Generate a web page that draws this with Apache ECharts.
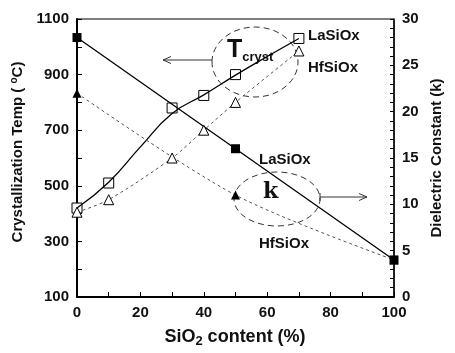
<!DOCTYPE html>
<html><head><meta charset="utf-8">
<script src="https://cdn.jsdelivr.net/npm/echarts@6/dist/echarts.min.js"></script>
<style>html,body{margin:0;padding:0;background:#fff}#c{width:455px;height:353px}</style>
</head><body><div id="c"></div>
<script>
// measured points (crystallization temperature, left axis)
const sio2Tc = [0, 10, 30, 40, 50, 70];
const tcLaSiOx = [420, 510, 780, 825, 900, 1030];
const tcHfSiOx = [405, 450, 600, 700, 800, 985];
// drawn trend curve for LaSiOx
const sio2TcCurve = [0, 10, 20, 30, 40, 50, 60, 70];
const tcLaSiOxCurve = [420, 513, 640, 760, 827, 898, 965, 1030];
// dielectric constant (right axis)
const sio2K = [0, 50, 100];
const kLaSiOx = [28, 16, 4];
const kHfSiOx = [22, 11, 4];

const F = '"Liberation Sans", Arial, Helvetica, sans-serif';
const chart = echarts.init(document.getElementById('c'), null, {renderer: 'canvas'});
const zip = (xs, ys) => xs.map((x, i) => [x, ys[i]]);
const lbl = {fontFamily: F, fontWeight: 'bold', fontSize: 15, color: '#111'};

function arrowHead(x, y, dir) {
  return {type: 'polyline', shape: {points: [[x - dir * 8, y - 3.5], [x, y], [x - dir * 8, y + 3.5]]},
    style: {stroke: '#333', lineWidth: 1, fill: null}};
}

chart.setOption({
  animation: false,
  grid: {left: 77, top: 19, right: 61, bottom: 56, show: true, borderColor: '#000', borderWidth: 1},
  xAxis: {type: 'value', min: 0, max: 100, interval: 10,
    axisLine: {lineStyle: {color: '#000', width: 2}},
    axisTick: {inside: true, length: 5, lineStyle: {color: '#000', width: 1}},
    splitLine: {show: false},
    axisLabel: Object.assign({margin: 8, formatter: v => (v % 20 === 0 ? String(v) : '')}, lbl)},
  yAxis: [
    {type: 'value', min: 100, max: 1100, interval: 100, position: 'left',
      axisLine: {show: true, lineStyle: {color: '#000', width: 2}},
      axisTick: {show: true, inside: true, length: 5, lineStyle: {color: '#000', width: 1}},
      splitLine: {show: false},
      axisLabel: Object.assign({margin: 8, formatter: v => ((v - 100) % 200 === 0 ? String(v) : '')}, lbl)},
    {type: 'value', min: 0, max: 30, interval: 1, position: 'right',
      axisLine: {show: true, lineStyle: {color: '#000', width: 1.5}},
      axisTick: {show: true, inside: true, length: 4, lineStyle: {color: '#000', width: 1}},
      splitLine: {show: false},
      axisLabel: Object.assign({margin: 8, formatter: v => (v % 5 === 0 ? String(v) : '')}, lbl)}
  ],
  series: [
    {type: 'line', yAxisIndex: 0, data: zip(sio2Tc, tcHfSiOx), smooth: 0.3, symbol: 'triangle', symbolSize: 10,
      lineStyle: {color: '#555', width: 1, type: [3, 3]}, itemStyle: {color: '#fff', borderColor: '#000', borderWidth: 1}},
    {type: 'line', yAxisIndex: 0, data: zip(sio2TcCurve, tcLaSiOxCurve), smooth: 0.5, symbol: 'none',
      lineStyle: {color: '#000', width: 1.3}},
    {type: 'scatter', yAxisIndex: 0, data: zip(sio2Tc, tcLaSiOx), symbol: 'rect', symbolSize: 10,
      itemStyle: {color: '#fff', borderColor: '#000', borderWidth: 1, opacity: 1}},
    {type: 'line', yAxisIndex: 1, data: zip(sio2K, kHfSiOx), smooth: 0.3, symbol: 'triangle', symbolSize: 9,
      lineStyle: {color: '#555', width: 1, type: [3, 3]}, itemStyle: {color: '#000'}},
    {type: 'line', yAxisIndex: 1, data: zip(sio2K, kLaSiOx), symbol: 'rect', symbolSize: 9,
      lineStyle: {color: '#000', width: 1.3}, itemStyle: {color: '#000'}}
  ],
  graphic: [
    {type: 'ellipse', shape: {cx: 255, cy: 62, rx: 43, ry: 35}, style: {fill: null, stroke: '#333', lineWidth: 1, lineDash: [6, 4]}},
    {type: 'ellipse', shape: {cx: 277, cy: 199, rx: 43, ry: 27}, style: {fill: null, stroke: '#333', lineWidth: 1, lineDash: [6, 4]}},
    {type: 'line', shape: {x1: 212, y1: 60, x2: 163, y2: 60}, style: {stroke: '#333', lineWidth: 1}},
    arrowHead(163, 60, -1),
    {type: 'line', shape: {x1: 320, y1: 197, x2: 367, y2: 197}, style: {stroke: '#333', lineWidth: 1}},
    {type: 'line', shape: {x1: 320, y1: 193, x2: 320, y2: 201}, style: {stroke: '#333', lineWidth: 1}},
    arrowHead(367, 197, 1),
    {type: 'text', x: 227, y: 50, style: {text: '{t|T}{s|cryst}', fontFamily: F, textVerticalAlign: 'middle',
      rich: {t: {fontFamily: F, fontWeight: 'bold', fontSize: 25, fill: '#111'},
             s: {fontFamily: F, fontWeight: 'bold', fontSize: 13, fill: '#111', padding: [14, 0, 0, 0]}}}},
    {type: 'text', x: 263, y: 192, style: {text: 'k', font: 'bold 22px "DejaVu Serif", "Liberation Serif", serif', fill: '#111', textVerticalAlign: 'middle'}},
    {type: 'text', x: 308, y: 36, style: {text: 'LaSiOx', font: 'bold 15px ' + F, fill: '#111', textVerticalAlign: 'middle'}},
    {type: 'text', x: 308, y: 68, style: {text: 'HfSiOx', font: 'bold 15px ' + F, fill: '#111', textVerticalAlign: 'middle'}},
    {type: 'text', x: 259, y: 160, style: {text: 'LaSiOx', font: 'bold 15px ' + F, fill: '#111', textVerticalAlign: 'middle'}},
    {type: 'text', x: 259, y: 244, style: {text: 'HfSiOx', font: 'bold 15px ' + F, fill: '#111', textVerticalAlign: 'middle'}},
    {type: 'text', x: 235, y: 337, style: {text: '{a|SiO}{b|2}{a| content (%)}', textAlign: 'center', textVerticalAlign: 'middle',
      rich: {a: {fontFamily: F, fontWeight: 'bold', fontSize: 18, fill: '#111'},
             b: {fontFamily: F, fontWeight: 'bold', fontSize: 13, fill: '#111', padding: [9, 0, 0, 0]}}}},
    {type: 'text', x: 18, y: 152, rotation: Math.PI / 2, style: {text: '{a|Crystallization Temp ( }{b|o}{a|C)}', textAlign: 'center', textVerticalAlign: 'middle',
      rich: {a: {fontFamily: F, fontWeight: 'bold', fontSize: 15, fill: '#111'},
             b: {fontFamily: F, fontWeight: 'bold', fontSize: 10, fill: '#111', padding: [0, 0, 8, 0]}}}},
    {type: 'text', x: 437, y: 158, rotation: Math.PI / 2, style: {text: 'Dielectric Constant (k)', font: 'bold 15px ' + F, fill: '#111', textAlign: 'center', textVerticalAlign: 'middle'}}
  ]
});
</script></body></html>
